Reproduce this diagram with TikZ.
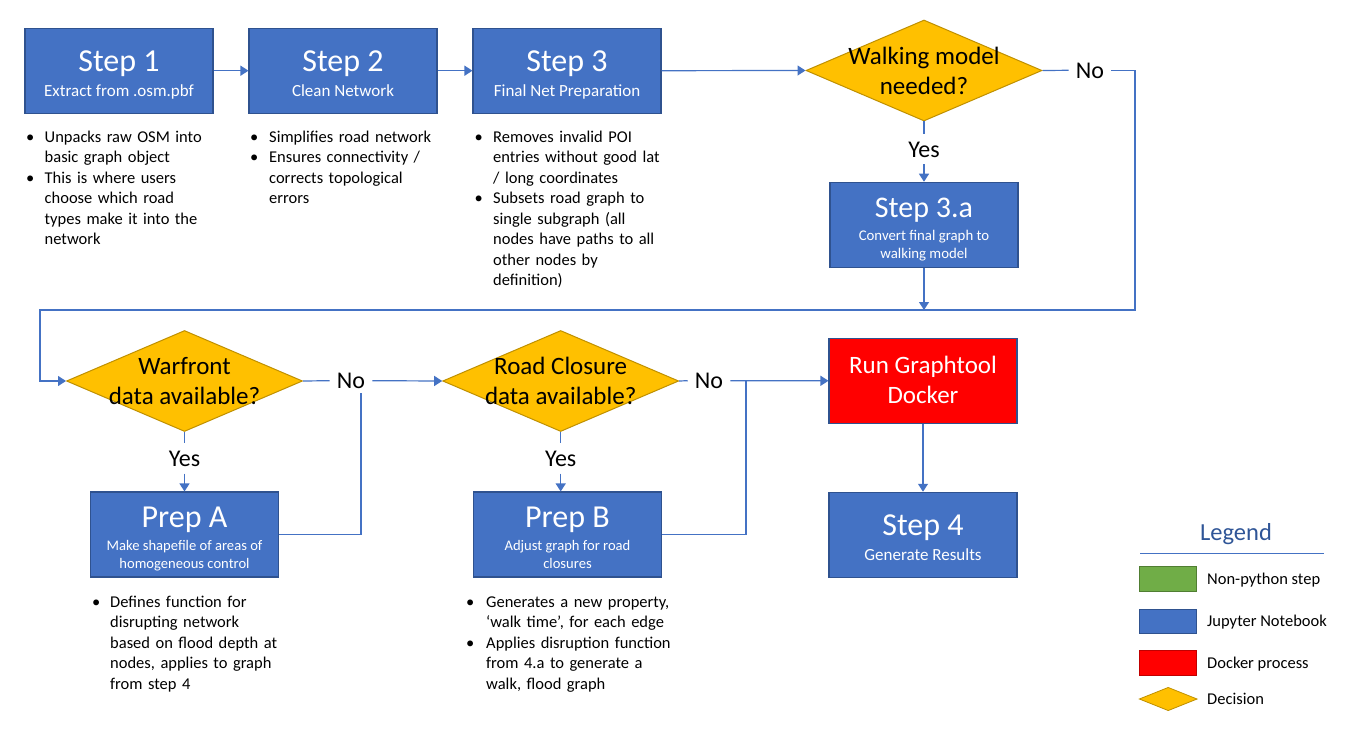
\documentclass[tikz,border=0pt]{standalone}
\usepackage{fontspec}
\setmainfont{Carlito}
\usetikzlibrary{shapes.geometric,arrows.meta}
\definecolor{jblue}{HTML}{4472C4}
\definecolor{jborder}{HTML}{2F528F}
\definecolor{gold}{HTML}{FFC000}
\definecolor{goldb}{HTML}{BF9000}
\definecolor{dred}{HTML}{FF0000}
\definecolor{dredb}{HTML}{C00000}
\definecolor{ngreen}{HTML}{70AD47}
\definecolor{ngreenb}{HTML}{507E32}
\definecolor{legblue}{HTML}{2F5597}
\newcommand\inbox[2]{\makebox[0pt]{\raisebox{#1}[0pt][0pt]{\parbox[b]{236pt}{\centering #2\par}}}}
\newcommand\btitle[2]{{\fontsize{#1}{#1}\selectfont #2\par}}
\newcommand\bsubt[3]{{\fontsize{#1}{#2}\selectfont #3\par}}
\newcommand\bitem[2]{\par\raggedright\noindent\hangindent=#1\hangafter=1\makebox[#1][l]{•}\strut#2\par}
\begin{document}
\begin{tikzpicture}[x=1pt,y=-1pt,
  stepbox/.style={rectangle,fill=jblue,draw=jborder,line width=1.1pt,minimum width=188pt,minimum height=85pt,inner sep=0pt,text=white},
  dockbox/.style={stepbox,fill=dred},
  decision/.style={diamond,fill=gold,draw=goldb,line width=1pt,minimum width=236pt,minimum height=101pt,inner sep=0pt,text=black},
  lbl/.style={font=\fontsize{24}{24}\selectfont,inner xsep=7pt,inner ysep=0pt,minimum height=30pt,text height=16pt,text depth=0pt},
  listtxt/.style={anchor=north west,inner sep=0pt,text width=205pt,font=\fontsize{16.5}{20.5}\selectfont},
  conn/.style={draw=jblue,line width=1.2pt},
  arr/.style={conn,-{Triangle[length=8pt,width=10pt]}},
  swatch/.style={rectangle,minimum width=56.5pt,minimum height=24.6pt,inner sep=0pt,line width=1pt},
  legtxt/.style={anchor=base west,inner sep=0pt,font=\fontsize{16.5}{16.5}\selectfont}
]
\fill[white] (0,0) rectangle (1354,730);
\useasboundingbox (0,0) rectangle (1354,730);

% Row 1
\node[stepbox] (s1) at (119,70.7) {\inbox{-26pt}{\btitle{32}{Step 1}\bsubt{17}{25}{Extract from .osm.pbf}}};
\node[stepbox] (s2) at (343,70.7) {\inbox{-26pt}{\btitle{32}{Step 2}\bsubt{17}{25}{Clean Network}}};
\node[stepbox] (s3) at (567,70.7) {\inbox{-26pt}{\btitle{32}{Step 3}\bsubt{17}{25}{Final Net Preparation}}};
\node[decision] (d1) at (924,70.5) {\inbox{-23.8pt}{\bsubt{25}{29.5}{Walking model\\needed?}}};
\node[lbl] (no1) at (1090,70.3) {No};
\node[lbl] (yes1) at (924,149.3) {Yes};
\node[stepbox] (s3a) at (924,224.8) {\inbox{-33.5pt}{\btitle{30}{Step 3.a}\vspace{5.4pt}\bsubt{14.8}{17.6}{Convert final graph to\\walking model}}};

% Bullet lists row 1
\node[listtxt] (l1) at (26,121.8) {\bitem{18.5pt}{Unpacks raw OSM into\newline basic graph object}\bitem{18.5pt}{This is where users\newline choose which road\newline types make it into the\newline network}};
\node[listtxt] (l2) at (250,121.8) {\bitem{19pt}{Simplifies road network}\bitem{19pt}{Ensures connectivity /\newline corrects topological\newline errors}};
\node[listtxt] (l3) at (474.5,121.8) {\bitem{18.5pt}{Removes invalid POI\newline entries without good lat\newline / long coordinates}\bitem{18.5pt}{Subsets road graph to\newline single subgraph (all\newline nodes have paths to all\newline other nodes by\newline definition)}};

% Row 2
\node[decision] (d2) at (184.5,381) {\inbox{-23pt}{\bsubt{25}{29.5}{Warfront\\data available?}}};
\node[lbl] (no2) at (351,380.7) {No};
\node[lbl] (yes2) at (184.5,458.5) {Yes};
\node[stepbox] (pa) at (184.5,534.5) {\inbox{-33.8pt}{\btitle{32}{Prep A}\vspace{5.4pt}\bsubt{14.6}{17.6}{Make shapefile of areas of\\homogeneous control}}};

\node[decision] (d3) at (560.7,381) {\inbox{-23pt}{\bsubt{25}{29.5}{Road Closure\\data available?}}};
\node[lbl] (no3) at (709,380.7) {No};
\node[lbl] (yes3) at (560.7,458.5) {Yes};
\node[stepbox] (pb) at (567.5,534.5) {\inbox{-33.8pt}{\btitle{32}{Prep B}\vspace{5.4pt}\bsubt{14.6}{17.6}{Adjust graph for road\\closures}}};

\node[dockbox] (run) at (923,380.8) {\inbox{-22.5pt}{\bsubt{25}{30}{Run Graphtool\\Docker}}};
\node[stepbox] (s4) at (923,534.8) {\inbox{-25.2pt}{\btitle{32}{Step 4}\bsubt{17}{25}{Generate Results}}};

% Bullet lists row 2
\node[listtxt] (la) at (92,586.6) {\bitem{18pt}{Defines function for\newline disrupting network\newline based on flood depth at\newline nodes, applies to graph\newline from step 4}};
\node[listtxt] (lb) at (466,586.6) {\bitem{20pt}{Generates a new property,\newline ‘walk time’, for each edge}\bitem{20pt}{Applies disruption function\newline from 4.a to generate a\newline walk, flood graph}};

% Connectors
\coordinate (rc) at (1135,310);
\coordinate (lc) at (40,310);
\coordinate (ja) at (361,393);
\coordinate (jb) at (746,380.7);
\draw[arr] (s1.east) -- (s2.west);
\draw[arr] (s2.east) -- (s3.west);
\draw[arr] (s3.east) -- (d1.west);
\draw[conn] (d1.east) -- (no1.west);
\draw[arr] (no1.east) -| (rc) -- (lc) |- (d2.west);
\draw[conn] (d1.south) -- (yes1.north);
\draw[arr] (yes1.south) -- (s3a.north);
\draw[arr] (s3a.south) -- (s3a.south |- lc);
\draw[conn] (d2.east) -- (no2.west);
\draw[arr] (no2.east) -- (d3.west);
\draw[conn] (pa.east) -| (ja);
\draw[conn] (d2.south) -- (yes2.north);
\draw[arr] (yes2.south) -- (pa.north);
\draw[conn] (d3.east) -- (no3.west);
\draw[arr] (no3.east) -- (run.west);
\draw[conn] (pb.east) -| (jb);
\draw[conn] (d3.south) -- (yes3.north);
\draw[arr] (yes3.south) -- (yes3.south |- pb.north);
\draw[arr] (run.south) -- (s4.north);

% Legend
\node[anchor=base,inner sep=0pt,font=\fontsize{24.5}{24.5}\selectfont,text=legblue] (lgt) at (1236,540) {Legend};
\coordinate (lgl) at (1140,553.3);
\coordinate (lgr) at (1324,553.3);
\draw[jblue,line width=1pt] (lgl) -- (lgr);
\node[swatch,fill=ngreen,draw=ngreenb] (lg1) at (1168.2,579) {};
\node[swatch,fill=jblue,draw=jborder] (lg2) at (1168.2,621.3) {};
\node[swatch,fill=dred,draw=dredb] (lg3) at (1168.2,662.7) {};
\node[diamond,fill=gold,draw=goldb,line width=0.8pt,minimum width=58pt,minimum height=23.4pt,inner sep=0pt] (lg4) at (1168.2,699) {};
\node[legtxt] (lgt1) at (1207,584) {Non-python step};
\node[legtxt] (lgt2) at (1207,626.5) {Jupyter Notebook};
\node[legtxt] (lgt3) at (1207,668) {Docker process};
\node[legtxt] (lgt4) at (1207,704.3) {Decision};
\end{tikzpicture}
\end{document}
